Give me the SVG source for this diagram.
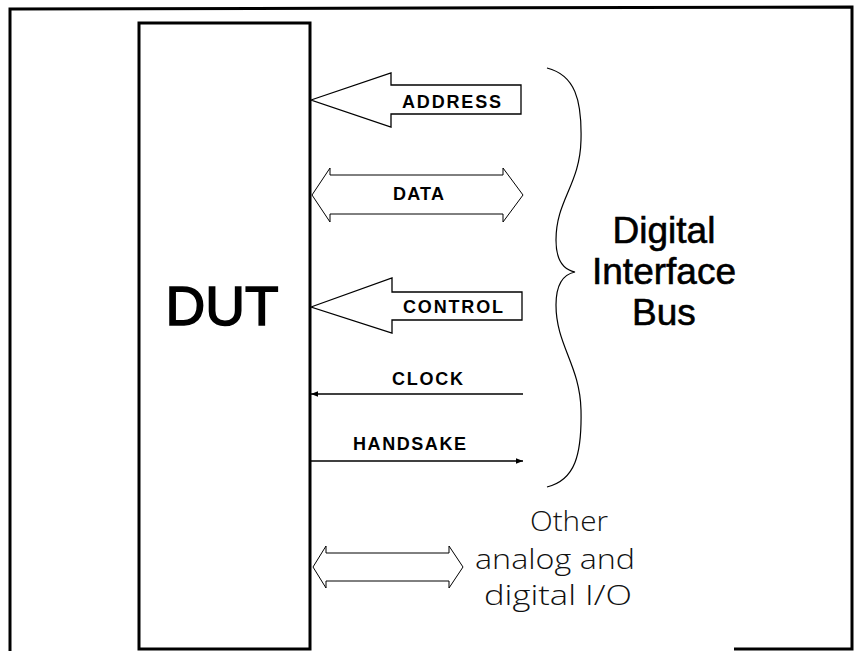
<svg xmlns="http://www.w3.org/2000/svg" width="857" height="651" viewBox="0 0 857 651">
<defs>
<style>
.frame{fill:none;stroke:#000;stroke-width:3}
.box{fill:#fff;stroke:#000;stroke-width:3}
.bus{fill:#fff;stroke:#000;stroke-width:1.3;stroke-linejoin:miter}
.dbl{fill:#fff;stroke:#000;stroke-width:1}
.wire{fill:none;stroke:#000;stroke-width:1.3}
.lbl{font-family:"Liberation Sans",Arial,sans-serif;font-weight:bold;font-size:18px;fill:#000}
.big{font-family:"Liberation Sans",Arial,sans-serif;font-size:37px;fill:#000;stroke:#000;stroke-width:0.6;text-anchor:middle}
.thin{font-family:"Open Sans","Liberation Sans",sans-serif;font-weight:300;font-size:28px;fill:#111}
</style>
<marker id="ah" viewBox="0 0 10 10" refX="10" refY="5" markerWidth="10" markerHeight="7" markerUnits="userSpaceOnUse" orient="auto-start-reverse">
<path d="M0,1 L10,5 L0,9 z" fill="#000"/>
</marker>
</defs>
<rect width="857" height="651" fill="#fff"/>
<path class="frame" d="M10,651 L10,9 L852,7 L852,649 L734,649"/>
<g id="dut">
<rect class="box" x="139" y="23" width="171" height="626"/>
<text x="222" y="325" font-family="Liberation Sans,Arial,sans-serif" font-size="55" stroke="#000" stroke-width="1.6" text-anchor="middle">DUT</text>
</g>
<g id="connectors">
<g id="address">
<polygon class="bus" points="311,100 391,73 391,85 521,85 521,114 391,114 391,127"/>
<text class="lbl" x="402" y="108" textLength="99" lengthAdjust="spacing">ADDRESS</text>
</g>
<g id="data">
<polygon class="dbl" points="312,195 330,168 330,175 503,175 503,168 523,195 503,222 503,214 330,214 330,222"/>
<text class="lbl" x="393" y="200" textLength="51" lengthAdjust="spacing">DATA</text>
</g>
<g id="control">
<polygon class="bus" points="311,307 392,278 392,292 522,292 522,320 392,320 392,333"/>
<text class="lbl" x="403" y="313" textLength="100" lengthAdjust="spacing">CONTROL</text>
</g>
<g id="clock">
<path class="wire" d="M311,394 L523,394" marker-start="url(#ah)"/>
<text class="lbl" x="392" y="385" textLength="71" lengthAdjust="spacing">CLOCK</text>
</g>
<g id="handshake">
<path class="wire" d="M311,461 L523,461" marker-end="url(#ah)"/>
<text class="lbl" x="353" y="450" textLength="113" lengthAdjust="spacing">HANDSAKE</text>
</g>
<g id="otherio">
<polygon class="dbl" points="313,567 326,546 326,553 449,553 449,546 463,567 449,588 449,581 326,581 326,588"/>
</g>
</g>
<g id="brace">
<path fill="none" stroke="#000" stroke-width="1.2" d="M547,68 C575,75 582,100 581,140 C580,185 556,200 556,240 C556,262 565,270 575,272 C565,274 556,282 556,305 C556,345 580,365 581,410 C582,455 575,480 547,487"/>
</g>
<g id="bus-label">
<text class="big" x="664" y="243">Digital</text>
<text class="big" x="664" y="284">Interface</text>
<text class="big" x="664" y="325">Bus</text>
</g>
<g id="io-label">
<text class="thin" x="530" y="531" textLength="78" lengthAdjust="spacingAndGlyphs">Other</text>
<text class="thin" x="475" y="569" textLength="160" lengthAdjust="spacingAndGlyphs">analog and</text>
<text class="thin" x="484" y="605" textLength="148" lengthAdjust="spacingAndGlyphs">digital I/O</text>
</g>
</svg>
